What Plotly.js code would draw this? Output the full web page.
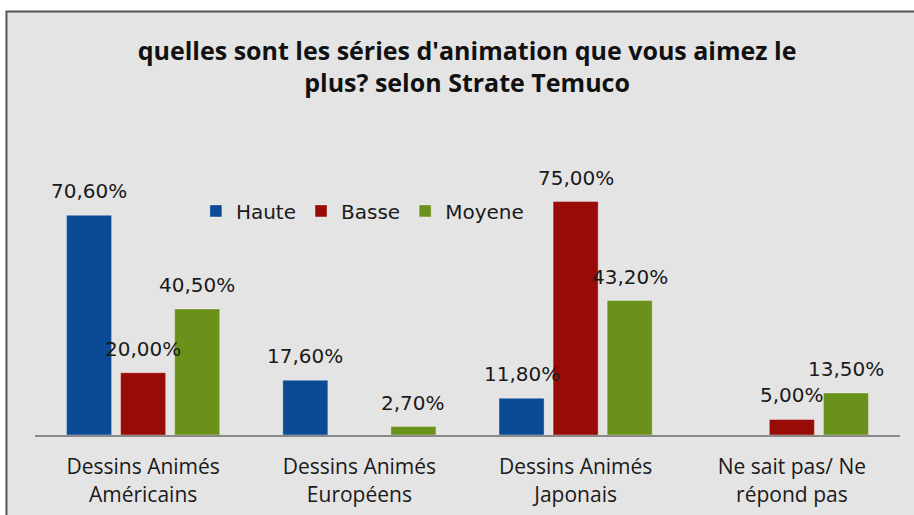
<!DOCTYPE html>
<html>
<head>
<meta charset="utf-8">
<script src="https://cdn.plot.ly/plotly-3.0.1.min.js"></script>
<style>html,body{margin:0;padding:0;background:#fff;}#chart{width:914px;height:515px;}</style>
</head>
<body>
<div id="chart"></div>
<script>
const categories = ["Dessins Animés<br>Américains", "Dessins Animés<br>Européens", "Dessins Animés<br>Japonais", "Ne sait pas/ Ne<br>répond pas"];
const seriesNames = ["Haute", "Basse", "Moyene"];
const haute = [70.6, 17.6, 11.8, null];
const basse = [20.0, null, 75.0, 5.0];
const moyene = [40.5, 2.7, 43.2, 13.5];
const colors = ["#0b4a95", "#990b06", "#6a9119"];
const seriesValues = [haute, basse, moyene];

const fmt = v => v.toFixed(2).replace('.', ',') + '%';

const traces = seriesValues.map((vals, i) => ({
  type: 'bar',
  name: seriesNames[i],
  x: categories,
  y: vals,
  marker: {color: colors[i], line: {color: 'rgba(255,255,255,0.35)', width: 1}},
  hoverinfo: 'skip'
}));

const slotPx = 54;
const annotations = [];
seriesValues.forEach((vals, i) => {
  vals.forEach((v, j) => {
    if (v === null) return;
    annotations.push({
      x: categories[j], y: v, xref: 'x', yref: 'y',
      text: fmt(v), showarrow: false,
      xshift: (i - 1) * slotPx, yshift: 24,
      font: {family: 'DejaVu Sans', size: 20, color: '#1a1a1a'}
    });
  });
});

const layout = {
  width: 914, height: 515,
  margin: {l: 35, r: 14, t: 186, b: 80},
  paper_bgcolor: '#ffffff',
  plot_bgcolor: 'rgba(0,0,0,0)',
  barmode: 'group',
  bargap: 0.25,
  bargroupgap: 1/6,
  showlegend: true,
  title: {
    text: "quelles sont les séries d'animation que vous aimez le<br>plus? selon Strate Temuco",
    x: 0.511, xref: 'container', xanchor: 'center',
    y: 0.884, yref: 'container', yanchor: 'middle',
    font: {family: 'Open Sans', size: 25, color: '#111', weight: 'bold'}
  },
  legend: {
    orientation: 'h',
    x: 0.186, xanchor: 'left',
    y: 0.9, yanchor: 'middle',
    bgcolor: 'rgba(0,0,0,0)',
    font: {family: 'DejaVu Sans', size: 20, color: '#1a1a1a'},
    traceorder: 'normal'
  },
  xaxis: {
    showline: true, linecolor: '#8a8a8a', linewidth: 2,
    showgrid: false, zeroline: false, ticks: '',
    ticklabelstandoff: 12,
    tickfont: {family: 'Open Sans', size: 21, color: '#1a1a1a'},
    fixedrange: true
  },
  yaxis: {
    visible: false, range: [0, 80], showgrid: false, zeroline: false, fixedrange: true
  },
  annotations: annotations,
  shapes: [{
    type: 'rect', xref: 'paper', yref: 'paper', layer: 'below',
    x0: -0.033, x1: 1.04, y0: -0.40, y1: 1.701,
    fillcolor: '#e4e4e4', line: {color: '#555555', width: 2}
  }]
};

Plotly.newPlot('chart', traces, layout, {displayModeBar: false, staticPlot: true});
</script>
</body>
</html>
